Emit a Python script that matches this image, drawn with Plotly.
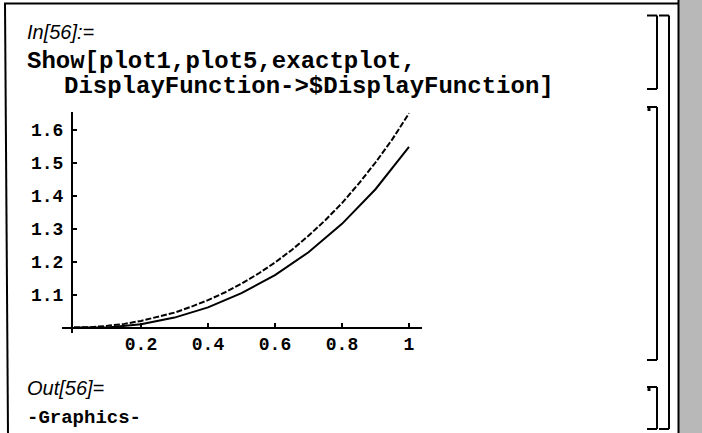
import plotly.graph_objects as go

# ---- data ----
x_exact = [0.0, 0.05, 0.1, 0.15, 0.2, 0.25, 0.3, 0.35, 0.4, 0.45, 0.5,
           0.55, 0.6, 0.65, 0.7, 0.75, 0.8, 0.85, 0.9, 0.95, 1.0]
y_exact = [1.0, 1.001, 1.005, 1.011, 1.02, 1.032, 1.045, 1.063, 1.083, 1.106, 1.133,
           1.163, 1.197, 1.235, 1.278, 1.325, 1.377, 1.436, 1.5, 1.57, 1.649]
x_plot1 = [0.0, 0.1, 0.2, 0.3, 0.4, 0.5, 0.6, 0.7, 0.8, 0.9, 1.0]
y_plot1 = [1.0, 1.0, 1.01, 1.03, 1.061, 1.104, 1.159, 1.228, 1.314, 1.419, 1.547]
x_ticks = [0.2, 0.4, 0.6, 0.8, 1.0]
x_ticktext = ["0.2", "0.4", "0.6", "0.8", "1"]
y_ticks = [1.1, 1.2, 1.3, 1.4, 1.5, 1.6]
y_ticktext = ["1.1", "1.2", "1.3", "1.4", "1.5", "1.6"]

W, H = 702, 433
def PX(p): return p / W
def PY(p): return 1 - p / H

# plot geometry in pixels
ax_left, ax_right = 62, 422
ax_top, ax_bottom = 112, 333
x0_px, x_scale = 74, 335.0      # pixel of x=0, pixels per unit
y1_px, y_scale = 327.5, 330.0   # pixel of y=1, pixels per unit
xr = [(ax_left - x0_px) / x_scale, (ax_right - x0_px) / x_scale]
yr = [1 + (y1_px - ax_bottom) / y_scale, 1 + (y1_px - ax_top) / y_scale]

fig = go.Figure()
fig.add_trace(go.Scatter(x=x_plot1, y=y_plot1, mode="lines", cliponaxis=False,
                         line=dict(color="black", width=2), name="plot1"))
fig.add_trace(go.Scatter(x=x_exact, y=y_exact, mode="lines", cliponaxis=False,
                         line=dict(color="black", width=2, dash="6px,2px"), name="exactplot"))

tickfont = dict(family="Liberation Mono", size=18, color="black", weight="bold")
fig.update_layout(
    width=W, height=H, margin=dict(l=0, r=0, t=0, b=0),
    paper_bgcolor="white", plot_bgcolor="white", showlegend=False,
    xaxis=dict(domain=[PX(ax_left), PX(ax_right)], range=xr, anchor="free",
               position=PY(y1_px), showline=True, linecolor="black", linewidth=2,
               showgrid=False, zeroline=False, ticks="inside", ticklen=4, tickwidth=2,
               tickcolor="black", tickvals=x_ticks, ticktext=x_ticktext, tickfont=tickfont),
    yaxis=dict(domain=[PY(ax_bottom), PY(ax_top)], range=yr, anchor="free",
               position=PX(x0_px - 2), showline=True, linecolor="black", linewidth=2,
               showgrid=False, zeroline=False, ticks="inside", ticklen=4, tickwidth=2,
               tickcolor="black", tickvals=y_ticks, ticktext=y_ticktext, tickfont=tickfont,
               ticklabelstandoff=4),
)

shapes = []
def line(x0, y0, x1, y1, w=2, c="black"):
    shapes.append(dict(type="line", xref="paper", yref="paper", x0=PX(x0), y0=PY(y0),
                       x1=PX(x1), y1=PY(y1), line=dict(color=c, width=w)))

# notebook frame
line(4, 3.5, 679, 3.5, 2)
line(5, 3, 8, 433, 2)
# scrollbar
shapes.append(dict(type="rect", xref="paper", yref="paper", x0=PX(679), x1=1, y0=0, y1=1,
                   fillcolor="#b8b8b8", line=dict(width=0)))
line(678.5, 0, 678.5, 433, 2)
# cell brackets
def bracket(top, bottom, xv=657, xl=647, hook=False):
    line(xl, top, xv, top, 2)
    line(xv, top, xv, bottom, 2)
    line(xl, bottom, xv, bottom, 2)
    if hook:
        line(649, top, 649, top + 4, 3)
bracket(15.5, 89)
bracket(107, 360, hook=True)
bracket(387, 429, hook=True)
bracket(15.5, 429, xv=669, xl=659)
fig.update_layout(shapes=shapes)

def text(s, x, y, family, size, bold=False, italic=False):
    fig.add_annotation(x=PX(x), y=PY(y), xref="paper", yref="paper", text=s, showarrow=False,
                       xanchor="left", yanchor="middle",
                       font=dict(family=family, size=size, color="black",
                                 weight="bold" if bold else "normal",
                                 style="italic" if italic else "normal"))

text("In[56]:=", 25, 32, "Liberation Sans", 20, italic=True)
text("Show[plot1,plot5,exactplot,", 25, 62, "Liberation Mono", 24, bold=True)
text("DisplayFunction->$DisplayFunction]", 62, 87, "Liberation Mono", 24, bold=True)
text("Out[56]=", 25, 388, "Liberation Sans", 20, italic=True)
text("-Graphics-", 25, 418, "Liberation Mono", 19, bold=True)

fig.write_html("out.html", config={"displayModeBar": False},
               post_script="document.body.style.margin='0px';document.body.style.padding='0px';")
